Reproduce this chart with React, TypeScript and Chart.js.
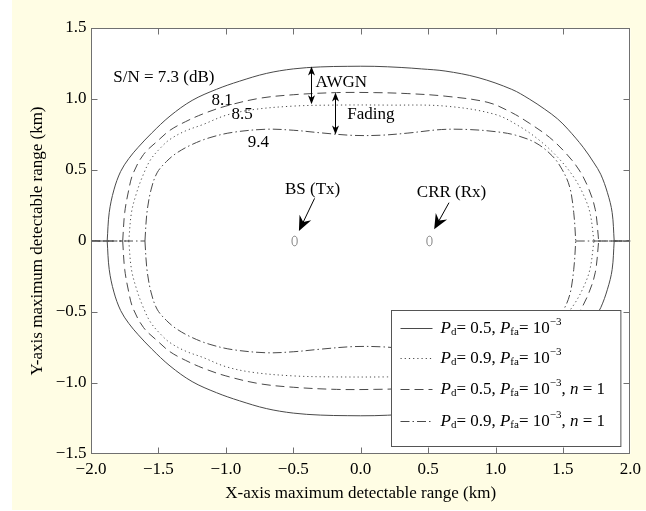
import React, { useEffect, useRef } from 'react';
import { Chart, registerables } from 'chart.js';

Chart.register(...registerables);

const FONT = "'Liberation Serif', 'Times New Roman', Times, serif";

// ---- data (upper halves; the figure is symmetric about y = 0) ----
const solidX = [-1.88, -1.865, -1.83, -1.78, -1.72, -1.65, -1.55, -1.414, -1.25, -1.07, -0.9, -0.7, -0.5, -0.3, -0.1, 0.1, 0.3, 0.45, 0.626, 0.87, 1.12, 1.25, 1.365, 1.46, 1.537, 1.65, 1.73, 1.78, 1.83, 1.865, 1.88];
const solidY = [0, 0.2, 0.36, 0.49, 0.58, 0.66, 0.76, 0.88, 0.99, 1.068, 1.125, 1.18, 1.212, 1.226, 1.23, 1.23, 1.222, 1.212, 1.197, 1.151, 1.068, 1.0, 0.928, 0.86, 0.787, 0.66, 0.55, 0.47, 0.34, 0.2, 0];

const dottedX = [-1.72, -1.7, -1.665, -1.62, -1.56, -1.48, -1.414, -1.3, -1.17, -1.0, -0.8, -0.5, -0.2, 0.2, 0.626, 0.995, 1.19, 1.35, 1.48, 1.58, 1.65, 1.7, 1.73];
const dottedY = [0, 0.2, 0.33, 0.45, 0.57, 0.66, 0.716, 0.775, 0.82, 0.885, 0.925, 0.95, 0.957, 0.957, 0.95, 0.892, 0.8, 0.69, 0.57, 0.45, 0.33, 0.2, 0];

const dashedX = [-1.765, -1.75, -1.72, -1.69, -1.61, -1.5, -1.414, -1.3, -1.17, -1.0, -0.75, -0.5, -0.18, 0.1, 0.35, 0.626, 0.944, 1.12, 1.25, 1.4, 1.52, 1.62, 1.69, 1.74, 1.765];
const dashedY = [0, 0.2, 0.36, 0.47, 0.61, 0.71, 0.78, 0.84, 0.895, 0.95, 1.005, 1.03, 1.045, 1.045, 1.038, 1.02, 0.976, 0.904, 0.83, 0.73, 0.62, 0.5, 0.37, 0.22, 0];

const dashDotX = [-1.6, -1.585, -1.555, -1.51, -1.44, -1.364, -1.25, -1.118, -0.95, -0.7, -0.5, -0.3, -0.06, 0.15, 0.35, 0.6, 0.8, 1.0, 1.15, 1.3, 1.42, 1.493, 1.55, 1.58, 1.595];
const dashDotY = [0, 0.2, 0.36, 0.48, 0.56, 0.62, 0.68, 0.728, 0.765, 0.787, 0.78, 0.762, 0.744, 0.745, 0.76, 0.785, 0.785, 0.77, 0.745, 0.69, 0.6, 0.505, 0.38, 0.2, 0];

const X_MIN = -2, X_MAX = 2, Y_MIN = -1.5, Y_MAX = 1.5, STEP = 0.5;

// nodes
const nodeX = [-0.49, 0.51];
const nodeY = [0, 0];
const nodeLabels = ['BS (Tx)', 'CRR (Rx)'];
const nodeLabelX = [-0.357, 0.674];
const nodeLabelY = [0.364, 0.34];
const nodeArrowFromX = [-0.342, 0.655];
const nodeArrowFromY = [0.3, 0.27];
const nodeArrowToX = [-0.458, 0.545];
const nodeArrowToY = [0.07, 0.082];

// curve labels (left-aligned)
const snLabels = ['S/N = 7.3 (dB)', '8.1', '8.5', '9.4'];
const snLabelX = [-1.835, -1.106, -0.958, -0.838];
const snLabelY = [1.151, 0.986, 0.89, 0.695];

// double arrows
const gapLabels = ['AWGN', 'Fading'];
const gapArrowX = [-0.367, -0.187];
const gapArrowTop = [1.228, 1.045];
const gapArrowBottom = [0.963, 0.75];
const gapLabelX = [-0.335, -0.1];
const gapLabelY = [1.115, 0.89];

// legend
const legendPd = ['0.5', '0.9', '0.5', '0.9'];
const legendN = [false, false, true, true];

const STYLES = [
  { color: '#4a4a4a', dash: [] as number[] },
  { color: '#4a4a4a', dash: [1.2, 3] },
  { color: '#4a4a4a', dash: [9, 5] },
  { color: '#4a4a4a', dash: [9, 3, 1.5, 3] },
];

const CURVES = [
  [solidX, solidY],
  [dottedX, dottedY],
  [dashedX, dashedY],
  [dashDotX, dashDotY],
];

function fmt(v: number, zeroPlain: boolean) {
  const r = Math.round(v * 10) / 10;
  if (r === 0 && zeroPlain) return '0';
  const s = Math.abs(r).toFixed(1);
  return r < 0 ? '\u2212' + s : s;
}

type Run = { t: string; font: string; dy: number };

function drawRuns(ctx: CanvasRenderingContext2D, x: number, y: number, runs: Run[]) {
  let cx = x;
  for (const r of runs) {
    ctx.font = r.font;
    ctx.fillText(r.t, cx, y + r.dy);
    cx += ctx.measureText(r.t).width;
  }
}

const overlayPlugin = {
  id: 'overlay',
  beforeDraw(chart: any) {
    const { ctx, chartArea: a } = chart;
    ctx.save();
    ctx.fillStyle = '#ffffff';
    ctx.fillRect(a.left, a.top, a.right - a.left, a.bottom - a.top);
    ctx.restore();
  },
  afterDatasetsDraw(chart: any) {
    const { ctx, chartArea: a } = chart;
    const xs = chart.scales.x;
    const ys = chart.scales.y;
    const px = (v: number) => xs.getPixelForValue(v);
    const py = (v: number) => ys.getPixelForValue(v);
    ctx.save();

    // node markers
    ctx.strokeStyle = '#808080';
    ctx.lineWidth = 1;
    for (let i = 0; i < nodeX.length; i++) {
      ctx.beginPath();
      ctx.ellipse(px(nodeX[i]), py(nodeY[i]), 2.6, 4.8, 0, 0, Math.PI * 2);
      ctx.stroke();
    }

    // node arrows
    ctx.fillStyle = '#000';
    ctx.strokeStyle = '#000';
    for (let i = 0; i < nodeX.length; i++) {
      const x0 = px(nodeArrowFromX[i]), y0 = py(nodeArrowFromY[i]);
      const x1 = px(nodeArrowToX[i]), y1 = py(nodeArrowToY[i]);
      const len = Math.hypot(x1 - x0, y1 - y0);
      const ux = (x1 - x0) / len, uy = (y1 - y0) / len;
      const nx = -uy, ny = ux;
      ctx.beginPath();
      ctx.moveTo(x0, y0);
      ctx.lineTo(x1 - ux * 8, y1 - uy * 8);
      ctx.stroke();
      ctx.beginPath();
      ctx.moveTo(x1, y1);
      ctx.lineTo(x1 - ux * 15 + nx * 6.5, y1 - uy * 15 + ny * 6.5);
      ctx.lineTo(x1 - ux * 10, y1 - uy * 10);
      ctx.lineTo(x1 - ux * 15 - nx * 6.5, y1 - uy * 15 - ny * 6.5);
      ctx.closePath();
      ctx.fill();
    }

    // double arrows
    for (let i = 0; i < gapArrowX.length; i++) {
      const x = Math.round(px(gapArrowX[i])) + 0.5;
      const yt = py(gapArrowTop[i]);
      const yb = py(gapArrowBottom[i]);
      ctx.beginPath();
      ctx.moveTo(x, yt + 2);
      ctx.lineTo(x, yb - 2);
      ctx.stroke();
      ctx.beginPath();
      ctx.moveTo(x, yt);
      ctx.lineTo(x - 3.5, yt + 9);
      ctx.lineTo(x, yt + 6.5);
      ctx.lineTo(x + 3.5, yt + 9);
      ctx.closePath();
      ctx.fill();
      ctx.beginPath();
      ctx.moveTo(x, yb);
      ctx.lineTo(x - 3.5, yb - 9);
      ctx.lineTo(x, yb - 6.5);
      ctx.lineTo(x + 3.5, yb - 9);
      ctx.closePath();
      ctx.fill();
    }

    // texts
    ctx.fillStyle = '#000';
    ctx.font = `17px ${FONT}`;
    ctx.textBaseline = 'middle';
    ctx.textAlign = 'left';
    for (let i = 0; i < snLabels.length; i++) {
      ctx.fillText(snLabels[i], px(snLabelX[i]), py(snLabelY[i]));
    }
    for (let i = 0; i < gapLabels.length; i++) {
      ctx.fillText(gapLabels[i], px(gapLabelX[i]), py(gapLabelY[i]));
    }
    ctx.textAlign = 'center';
    for (let i = 0; i < nodeLabels.length; i++) {
      ctx.fillText(nodeLabels[i], px(nodeLabelX[i]), py(nodeLabelY[i]));
    }

    // frame + inward ticks
    ctx.strokeStyle = '#707070';
    ctx.lineWidth = 1;
    const L = Math.round(a.left) + 0.5, R = Math.round(a.right) - 0.5;
    const T = Math.round(a.top) + 0.5, B = Math.round(a.bottom) - 0.5;
    ctx.beginPath();
    for (let v = X_MIN + STEP; v < X_MAX - 1e-9; v += STEP) {
      const x = Math.round(px(v)) + 0.5;
      ctx.moveTo(x, T); ctx.lineTo(x, T + 6);
      ctx.moveTo(x, B); ctx.lineTo(x, B - 6);
    }
    for (let v = Y_MIN + STEP; v < Y_MAX - 1e-9; v += STEP) {
      const y = Math.round(py(v)) + 0.5;
      ctx.moveTo(L, y); ctx.lineTo(L + 6, y);
      ctx.moveTo(R, y); ctx.lineTo(R - 6, y);
    }
    ctx.stroke();
    ctx.strokeRect(L, T, R - L, B - T);

    // legend
    const lgL = a.right - 9.5, lgB = a.bottom - 7.5;
    const boxL = 391.5, boxT = 310.5;
    ctx.fillStyle = '#fff';
    ctx.fillRect(boxL, boxT, lgL - boxL, lgB - boxT);
    ctx.strokeStyle = '#555';
    ctx.strokeRect(boxL, boxT, lgL - boxL, lgB - boxT);
    const rowY = [328, 358, 389, 421];
    ctx.textAlign = 'left';
    ctx.textBaseline = 'middle';
    const reg = `17px ${FONT}`;
    const ita = `italic 17px ${FONT}`;
    const sub = `11px ${FONT}`;
    for (let i = 0; i < 4; i++) {
      const y = rowY[i] + 0.5;
      ctx.strokeStyle = STYLES[i].color;
      ctx.setLineDash(STYLES[i].dash);
      ctx.beginPath();
      ctx.moveTo(boxL + 9, y);
      ctx.lineTo(boxL + 41, y);
      ctx.stroke();
      ctx.setLineDash([]);
      ctx.fillStyle = '#000';
      const runs: Run[] = [
        { t: 'P', font: ita, dy: 0 },
        { t: 'd', font: sub, dy: 4 },
        { t: '= ' + legendPd[i] + ', ', font: reg, dy: 0 },
        { t: 'P', font: ita, dy: 0 },
        { t: 'fa', font: sub, dy: 4 },
        { t: '= 10', font: reg, dy: 0 },
        { t: '\u22123', font: sub, dy: -6 },
      ];
      if (legendN[i]) {
        runs.push({ t: ', ', font: reg, dy: 0 });
        runs.push({ t: 'n', font: ita, dy: 0 });
        runs.push({ t: ' = 1', font: reg, dy: 0 });
      }
      drawRuns(ctx, boxL + 49, y, runs);
    }
    ctx.restore();
  },
};

function upper(xs: number[], ys: number[]) {
  return xs.map((x, i) => ({ x, y: ys[i] }));
}
function lower(xs: number[], ys: number[]) {
  return xs.map((x, i) => ({ x, y: -ys[i] }));
}
function tails(xs: number[]) {
  return [
    { x: X_MIN, y: 0 },
    { x: xs[0], y: 0 },
    { x: xs[0], y: null },
    { x: xs[xs.length - 1], y: 0 },
    { x: X_MAX, y: 0 },
  ];
}

export default function App() {
  const ref = useRef<HTMLCanvasElement | null>(null);
  useEffect(() => {
    if (!ref.current) return;
    const datasets: any[] = [];
    CURVES.forEach(([xs, ys], i) => {
      const base = {
        borderColor: STYLES[i].color,
        borderWidth: 1,
        borderDash: STYLES[i].dash,
        pointRadius: 0,
        showLine: true,
        fill: false,
      };
      datasets.push({ ...base, data: upper(xs, ys), tension: 0.35 });
      datasets.push({ ...base, data: lower(xs, ys), tension: 0.35 });
      datasets.push({ ...base, data: tails(xs), tension: 0, spanGaps: false });
    });
    const chart = new Chart(ref.current, {
      type: 'scatter',
      data: { datasets },
      plugins: [overlayPlugin],
      options: {
        animation: false,
        responsive: false,
        maintainAspectRatio: false,
        layout: { padding: { top: 28, right: 14, left: 0, bottom: 0 } },
        plugins: { legend: { display: false }, tooltip: { enabled: false } },
        scales: {
          x: {
            type: 'linear',
            min: X_MIN,
            max: X_MAX,
            grid: { display: false, drawTicks: false },
            border: { display: false },
            ticks: {
              stepSize: STEP,
              autoSkip: false,
              maxRotation: 0,
              padding: 5,
              color: '#000',
              font: { family: FONT, size: 17 },
              callback: (v: any) => fmt(Number(v), false),
            },
            title: {
              display: true,
              text: 'X-axis maximum detectable range (km)',
              color: '#000',
              font: { family: FONT, size: 17 },
              padding: { top: 0, bottom: 7.5 },
            },
            afterFit: (s: any) => { s.height = 57; },
          },
          y: {
            type: 'linear',
            min: Y_MIN,
            max: Y_MAX,
            grid: { display: false, drawTicks: false },
            border: { display: false },
            ticks: {
              stepSize: STEP,
              autoSkip: false,
              padding: 4.5,
              color: '#000',
              font: { family: FONT, size: 17 },
              callback: (v: any) => fmt(Number(v), true),
            },
            title: {
              display: true,
              text: 'Y-axis maximum detectable range (km)',
              color: '#000',
              font: { family: FONT, size: 17 },
              padding: { top: 27, bottom: 0 },
            },
            afterFit: (s: any) => { s.width = 91; },
          },
        },
      } as any,
    });
    return () => chart.destroy();
  }, []);

  return (
    <div style={{ position: 'absolute', left: 0, top: 0, width: 646, height: 511, background: '#ffffff' }}>
      <div style={{ position: 'absolute', left: 12, top: 0, width: 634, height: 510, background: '#FFFDE4' }} />
      <canvas ref={ref} width={646} height={511} style={{ position: 'absolute', left: 0, top: 0, width: 646, height: 511 }} />
    </div>
  );
}
